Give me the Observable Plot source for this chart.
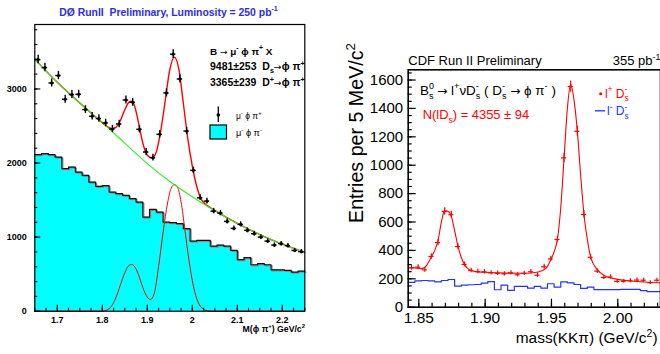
<!DOCTYPE html>
<html><head><meta charset="utf-8">
<script src="https://cdn.jsdelivr.net/npm/d3@7"></script>
<script src="https://cdn.jsdelivr.net/npm/@observablehq/plot@0.6"></script>
<style>
body{margin:0;background:#fff;}
#wrap{position:relative;width:660px;height:354px;overflow:hidden;background:#fff;}
#wrap svg{position:absolute;top:0;}
text{white-space:pre;}
</style></head><body><div id="wrap"></div>
<script>
// ---------- Left panel (DØ) ----------
const d0BinLo = 1.65, d0BinW = 0.015;
const d0Counts = [3397,3289,3081,3181,2861,2924,2928,2722,2631,2600,2541,2459,2527,2851,2820,2455,2149,2073,2388,2946,3469,3135,2432,1901,1532,1486,1351,1324,1212,1118,1172,1091,1046,1000,946,892,911,884,820,803];
const d0WrongSign = [2114,2127,2114,2081,1924,1946,1878,1834,1743,1685,1695,1608,1586,1564,1519,1473,1270,1374,1338,1203,1195,1181,1114,946,955,955,878,892,878,820,695,722,627,641,627,559,559,550,527,540];
const d0BgMass = [1.65,1.70,1.75,1.80,1.85,1.90,1.95,2.00,2.05,2.10,2.15,2.20,2.25];
const d0BgFit  = [3400,3090,2810,2545,2268,1992,1750,1545,1355,1185,1035,905,795];
const d0TotMass = [1.65,1.70,1.75,1.80,1.81,1.82,1.83,1.84,1.85,1.86,1.865,1.87,1.88,1.89,1.90,1.91,1.92,1.93,1.94,1.95,1.96,1.97,1.98,1.99,2.00,2.01,2.02,2.03,2.04,2.05,2.10,2.15,2.20,2.25];
const d0TotFit  = [3400,3090,2810,2545,2495,2468,2480,2570,2720,2825,2835,2800,2560,2270,2105,2070,2150,2440,2850,3260,3430,3270,2810,2330,1960,1680,1510,1440,1400,1360,1185,1035,905,795];
const d0SigMass = [1.65,1.80,1.81,1.82,1.83,1.84,1.85,1.858,1.865,1.872,1.88,1.89,1.90,1.907,1.915,1.925,1.935,1.945,1.953,1.9605,1.968,1.976,1.985,1.995,2.005,2.015,2.025,2.035,2.045,2.25];
const d0SigFit  = [0,0,15,65,180,350,520,610,631,600,500,320,190,158,230,600,1060,1460,1660,1710,1660,1440,1030,590,270,95,28,5,0,0];
const d0XTicks = [1.7,1.8,1.9,2.0,2.1,2.2];
const d0YTicks = [0,1000,2000,3000];

// ---------- Right panel (CDF) ----------
const cdfBinLo = 1.842, cdfBinW = 0.005;
const cdfRightSign = [277,282,263,357,455,674,651,427,301,258,251,249,242,239,235,242,228,238,250,225,285,340,477,1052,1554,1239,653,352,254,209,213,182,182,186,191,190,173,190];
const cdfWrongSign = [175,185,188,185,178,188,195,148,155,158,160,169,180,123,155,118,146,146,134,146,134,165,141,178,172,160,132,141,124,124,124,124,125,125,125,117,110,110];
const cdfFitMass = [1.842,1.847,1.852,1.855,1.8595,1.862,1.8645,1.867,1.8695,1.872,1.8745,1.877,1.8795,1.882,1.8845,1.8875,1.892,1.90,1.915,1.93,1.94,1.946,1.9495,1.952,1.9545,1.957,1.9595,1.962,1.9645,1.967,1.9695,1.972,1.9745,1.977,1.9795,1.9845,1.99,2.0,2.01,2.02,2.0322];
const cdfFitVal  = [280,277,272,285,355,400,470,600,680,675,640,540,430,350,300,268,252,246,240,239,248,275,335,390,480,700,1050,1400,1570,1460,1240,930,655,480,355,265,222,196,185,178,172];
const cdfXTicks = [1.85,1.90,1.95,2.00];
const cdfYTicks = [0,200,400,600,800,1000,1200,1400,1600];

const FONT = "Liberation Sans, Arial, Helvetica, sans-serif";
const wrap = document.getElementById("wrap");

function toXY(xs, ys){ return xs.map((x,i)=>({x, y: ys[i]})); }
function stepData(lo, w, vals){
  const a = vals.map((v,i)=>({x: lo + w*i, y: v}));
  a.push({x: lo + w*vals.length, y: vals[vals.length-1]});
  return a;
}
function axes(o){
  const common = {label: null};
  return [
    Plot.axisX({...common, ticks: o.xMinor, tickSize: -o.minLen, tickFormat: () => "", strokeWidth: o.tw}),
    Plot.axisX({...common, ticks: o.xMajor, tickSize: -o.majLen, tickFormat: () => "", strokeWidth: o.tw}),
    Plot.axisX({...common, ticks: o.xMajor, tickSize: 0, tickPadding: o.xPad, tickFormat: o.xFmt, fontSize: o.xfs, fontWeight: o.fw, fill: "black"}),
    Plot.axisY({...common, ticks: o.yMinor, tickSize: -o.minLen, tickFormat: () => "", strokeWidth: o.tw}),
    Plot.axisY({...common, ticks: o.yMajor, tickSize: -o.majLen, tickFormat: () => "", strokeWidth: o.tw}),
    Plot.axisY({...common, ticks: o.yMajor, tickSize: 0, tickPadding: o.yPad, tickFormat: o.yFmt, fontSize: o.yfs, fontWeight: o.fw, fill: "black"})
  ];
}
function build(svg, x, y, parts, opt, fs){
  const t = d3.select(svg).append("text").attr("x", x).attr("y", y)
    .attr("font-family", FONT).attr("font-size", fs)
    .attr("font-weight", opt.weight || "normal").attr("fill", opt.fill || "black")
    .attr("text-anchor", opt.anchor || "start");
  if (opt.rotate) t.attr("transform", `rotate(${opt.rotate},${x},${y})`);
  let cur = 0, lastW = 0;
  for (const p of parts){
    const [s, mode] = typeof p === "string" ? [p, ""] : p;
    const off = mode.startsWith("sup") ? -0.42*fs : mode.startsWith("sub") ? 0.3*fs : 0;
    const ts = t.append("tspan").text(s);
    if (off !== cur) ts.attr("dy", off - cur);
    cur = off;
    if (mode === "arrow") ts.attr("font-family", "DejaVu Sans").attr("font-weight", "normal").attr("font-size", fs*0.9);
    else if (mode) ts.attr("font-size", fs*0.68);
    if (mode === "substack") ts.attr("dx", -lastW);
    lastW = ts.node().getComputedTextLength();
  }
  return t;
}
function rich(svg, x, y, parts, opt){
  let t = build(svg, x, y, parts, opt, opt.size);
  if (opt.fit){
    const w = t.node().getBBox().width;
    if (w > 0){
      t.remove();
      t = build(svg, x, y, parts, opt, opt.size * opt.fit / w);
    }
  }
  return t;
}
const AR = ["→", "arrow"];

// ---------- build left ----------
const d0Pts = d0Counts.map((v,i)=>({x: d0BinLo + d0BinW*(i+0.5), y: v}));
const d0Hist = stepData(d0BinLo, d0BinW, d0WrongSign);
const left = Plot.plot({
  width: 330, height: 354,
  marginLeft: 34.3, marginRight: 25.7, marginTop: 24, marginBottom: 43.3,
  x: {domain: [1.65, 2.25], label: null},
  y: {domain: [0, 3870], label: null},
  style: {fontFamily: FONT, background: "transparent", overflow: "visible"},
  marks: [
    Plot.areaY(d0Hist, {x: "x", y: "y", curve: "step-after", fill: "#00ffff"}),
    Plot.line(d0Hist, {x: "x", y: "y", curve: "step-after", stroke: "#8c8c8c", strokeWidth: 1.3, dx: 1, dy: 1}),
    Plot.line(d0Hist, {x: "x", y: "y", curve: "step-after", stroke: "#111", strokeWidth: 1.2}),
    Plot.line(toXY(d0SigMass, d0SigFit), {x: "x", y: "y", curve: "monotone-x", stroke: "#ff0000", strokeWidth: 1}),
    Plot.line(toXY(d0TotMass, d0TotFit), {x: "x", y: "y", curve: "monotone-x", stroke: "#ff0000", strokeWidth: 1.4}),
    Plot.line(toXY(d0BgMass, d0BgFit), {x: "x", y: "y", curve: "monotone-x", stroke: "#33ee22", strokeWidth: 1.1}),
    Plot.ruleX(d0Pts, {x: "x", y1: d => d.y - Math.sqrt(d.y), y2: d => d.y + Math.sqrt(d.y), stroke: "black", strokeWidth: 1.4}),
    Plot.ruleY(d0Pts, {y: "y", x1: d => d.x - 0.006, x2: d => d.x + 0.006, stroke: "black", strokeWidth: 1.4}),
    Plot.dot(d0Pts, {x: "x", y: "y", r: 1.6, fill: "black", stroke: null}),
    Plot.frame({stroke: "black", strokeWidth: 1.2}),
    ...axes({
      xMajor: d0XTicks, xMinor: d3.range(0, 25).map(i => 1.65 + 0.025*i),
      yMajor: d0YTicks, yMinor: d3.range(0, 20).map(i => 200*i),
      minLen: 3, majLen: 6, tw: 1.1, xPad: 5, yPad: 8, xfs: 9, yfs: 9, fw: "bold",
      xFmt: d => String(+d.toFixed(2)), yFmt: d => String(d)
    })
  ]
});
left.style.left = "0px";
wrap.appendChild(left);

rich(left, 168.5, 15.5, ["DØ RunII  Preliminary, Luminosity = 250 pb", ["-1","sup"]], {size: 10.5, weight: "bold", fill: "#2b2bee", anchor: "middle", fit: 219});
rich(left, 210, 54.5, ["B ", AR, " μ", ["-","sup"], " ϕ π", ["+","sup"], " X"], {size: 9.5, weight: "bold", fit: 63});
rich(left, 210, 70, ["9481±253  D", ["s","sub"], AR, "ϕ π", ["+","sup"]], {size: 9.5, weight: "bold", fit: 95});
rich(left, 210, 86, ["3365±239  D", ["+","sup"], AR, "ϕ π", ["+","sup"]], {size: 9.5, weight: "bold", fit: 95});
rich(left, 236, 118.5, ["μ", ["-","sup"], " ϕ π", ["+","sup"]], {size: 9, fit: 26});
rich(left, 236, 136, ["μ", ["-","sup"], " ϕ π", ["-","sup"]], {size: 9, fit: 26});
rich(left, 305, 332, ["M(ϕ π", ["+","sup"], ") GeV/c", ["2","sup"]], {size: 9, weight: "bold", anchor: "end", fit: 63});
{
  const g = d3.select(left).append("g");
  g.append("line").attr("x1", 218.3).attr("x2", 218.3).attr("y1", 106.5).attr("y2", 122).attr("stroke", "black").attr("stroke-width", 1.3);
  g.append("circle").attr("cx", 218.3).attr("cy", 115).attr("r", 1.8).attr("fill", "black");
  g.append("rect").attr("x", 210).attr("y", 125).attr("width", 16.5).attr("height", 14).attr("fill", "#00ffff").attr("stroke", "black").attr("stroke-width", 1.2);
}

// ---------- build right ----------
const cdfPts = cdfRightSign.map((v,i)=>({x: cdfBinLo + cdfBinW*(i+0.5), y: v}));
const cdfHist = stepData(cdfBinLo, cdfBinW, cdfWrongSign);
const right = Plot.plot({
  width: 340, height: 354,
  marginLeft: 77.7, marginRight: 10, marginTop: 69.3, marginBottom: 47.3,
  x: {domain: [1.842, 2.0322], label: null},
  y: {domain: [0, 1672], label: null},
  style: {fontFamily: FONT, background: "transparent", overflow: "visible"},
  marks: [
    Plot.line(cdfHist, {x: "x", y: "y", curve: "step-after", stroke: "#2233ff", strokeWidth: 1.2}),
    Plot.line(toXY(cdfFitMass, cdfFitVal), {x: "x", y: "y", curve: "monotone-x", stroke: "#ff0000", strokeWidth: 1.1}),
    Plot.ruleX(cdfPts, {x: "x", y1: d => d.y - Math.sqrt(d.y), y2: d => d.y + Math.sqrt(d.y), stroke: "#ff0000", strokeWidth: 1.2}),
    Plot.ruleY(cdfPts, {y: "y", x1: d => d.x - 0.0019, x2: d => d.x + 0.0019, stroke: "#ff0000", strokeWidth: 1.2}),
    Plot.frame({stroke: "black", strokeWidth: 1.6}),
    ...axes({
      xMajor: cdfXTicks, xMinor: d3.range(0, 19).map(i => 1.85 + 0.01*i),
      yMajor: cdfYTicks, yMinor: d3.range(0, 34).map(i => 50*i),
      minLen: 4, majLen: 8, tw: 1.2, xPad: 5, yPad: 5, xfs: 15.5, yfs: 15, fw: "normal",
      xFmt: d => d.toFixed(2), yFmt: d => String(d)
    })
  ]
});
right.style.left = "330px";
wrap.appendChild(right);

rich(right, 78.3, 65, ["CDF Run II Preliminary"], {size: 13, fit: 134});
rich(right, 282.7, 65, ["355 pb", ["-1","sup"]], {size: 13});
rich(right, 90, 95, ["B", ["0","sup"], ["s","substack"], " ", AR, " l", ["+","sup"], "νD", ["-","sup"], ["s","substack"], " ( D", ["-","sup"], ["s","substack"], " ", AR, " ϕ π", ["-","sup"], " )"], {size: 13.5, fit: 136});
rich(right, 92.7, 119.3, ["N(lD", ["s","sub"], ") = 4355 ± 94"], {size: 13.5, fill: "#ff0000", fit: 107});
rich(right, 275, 97.5, ["l", ["+","sup"], " D", ["-","sup"], ["s","substack"]], {size: 12, fill: "#ff0000"});
rich(right, 277, 115, ["l", ["-","sup"], " D", ["-","sup"], ["s","substack"]], {size: 12, fill: "#2233ff"});
rich(right, 32.8, 133, ["Entries per 5 MeV/c", ["2","sup"]], {size: 17, anchor: "middle", rotate: -90, fit: 180});
rich(right, 185.7, 343, ["mass(KKπ) (GeV/c", ["2","sup"], ")"], {size: 15.5, fit: 142});
{
  const g = d3.select(right).append("g");
  g.append("circle").attr("cx", 270.7).attr("cy", 93.8).attr("r", 1.5).attr("fill", "#ff0000");
  g.append("line").attr("x1", 265).attr("x2", 275).attr("y1", 110.8).attr("y2", 110.8).attr("stroke", "#2233ff").attr("stroke-width", 1.3);
}
</script></body></html>
